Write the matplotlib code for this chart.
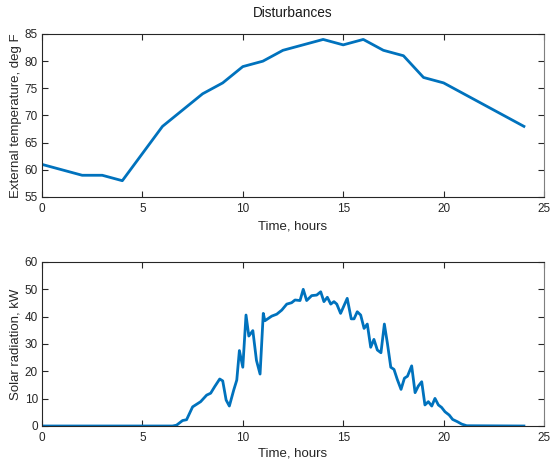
import matplotlib
matplotlib.use("Agg")
import matplotlib.pyplot as plt

plt.rcParams["font.family"] = ["Liberation Sans", "DejaVu Sans"]

# external temperature, hourly
hours = [0, 1, 2, 3, 4, 5, 6, 7, 8, 9, 10, 11, 12, 13, 14, 15, 16, 17, 18, 19, 20, 21, 22, 23, 24]
temp_f = [61, 60, 59, 59, 58, 63, 68, 71, 74, 76, 79, 80, 82, 83, 84, 83, 84, 82, 81, 77, 76, 74, 72, 70, 68]

# solar radiation
solar_t = [0, 6.5, 6.7, 7.0, 7.2, 7.5, 7.9, 8.2, 8.4, 8.6, 8.85, 9.0, 9.17, 9.33, 9.55, 9.7, 9.83,
           10.0, 10.16, 10.3, 10.5, 10.68, 10.86, 11.02, 11.1, 11.44, 11.69, 11.94, 12.19, 12.43,
           12.6, 12.85, 13.01, 13.18, 13.43, 13.68, 13.88, 14.04, 14.21, 14.38, 14.54, 14.68,
           14.87, 15.2, 15.4, 15.54, 15.7, 15.87, 16.04, 16.2, 16.37, 16.53, 16.7, 16.88, 17.05,
           17.2, 17.37, 17.53, 17.69, 17.88, 18.05, 18.2, 18.41, 18.58, 18.74, 18.91, 19.07,
           19.24, 19.41, 19.57, 19.74, 19.9, 20.07, 20.28, 20.45, 20.68, 20.9, 21.15, 24.0]
solar_kw = [0, 0, 0.3, 2.0, 2.3, 7.0, 8.9, 11.3, 12.0, 14.4, 17.2, 16.5, 9.5, 7.3, 13.2, 16.8, 27.6,
            21.5, 40.6, 32.9, 34.9, 24.0, 19.0, 41.2, 38.5, 40.2, 40.9, 42.4, 44.6, 45.1,
            46.1, 45.9, 50.0, 45.9, 47.7, 47.9, 49.1, 45.5, 47.1, 44.6, 45.5, 44.6,
            41.2, 46.7, 39.2, 39.2, 41.8, 40.6, 35.7, 37.3, 28.8, 31.7, 27.8, 26.8, 37.3,
            30.3, 21.5, 20.7, 17.1, 13.4, 17.5, 18.2, 22.0, 12.2, 14.6, 16.2, 7.7,
            8.9, 7.3, 10.1, 7.7, 6.8, 5.2, 4.0, 2.4, 1.6, 0.7, 0.1, 0]

line_color = "#0072BD"
fig = plt.figure(figsize=(5.56, 4.63), dpi=100)

ax1 = fig.add_axes([42 / 556, 1 - 197 / 463, 502 / 556, 163 / 463])
ax1.plot(hours, temp_f, color=line_color, linewidth=2)
ax1.set_xlim(0, 25)
ax1.set_ylim(55, 85)
ax1.set_xticks([0, 5, 10, 15, 20, 25])
ax1.set_yticks([55, 60, 65, 70, 75, 80, 85])
ax1.set_xlabel("Time, hours", fontsize=9.5, labelpad=4, color="#262626")
ax1.set_ylabel("External temperature, deg F", fontsize=9.5, labelpad=2, color="#262626")
ax1.set_title("Disturbances", fontsize=9.8, pad=12, color="#1a1a1a")

ax2 = fig.add_axes([42 / 556, 1 - 426 / 463, 502 / 556, 164 / 463])
ax2.plot(solar_t, solar_kw, color=line_color, linewidth=2)
ax2.set_xlim(0, 25)
ax2.set_ylim(0, 60)
ax2.set_xticks([0, 5, 10, 15, 20, 25])
ax2.set_yticks([0, 10, 20, 30, 40, 50, 60])
ax2.set_xlabel("Time, hours", fontsize=9.5, labelpad=3, color="#262626")
ax2.set_ylabel("Solar radiation, kW", fontsize=9.5, labelpad=2, color="#262626")

for ax in (ax1, ax2):
    ax.tick_params(direction="in", top=True, right=True, labelsize=8.5, length=4,
                   colors="#262626")
    ax.tick_params(axis="x", pad=4)
    ax.tick_params(axis="y", pad=3)
    for side, s in ax.spines.items():
        s.set_linewidth(0.8)
        s.set_color("#262626" if side in ("left", "bottom", "top") else "#7f7f7f")

fig.savefig("out.png", dpi=100)
